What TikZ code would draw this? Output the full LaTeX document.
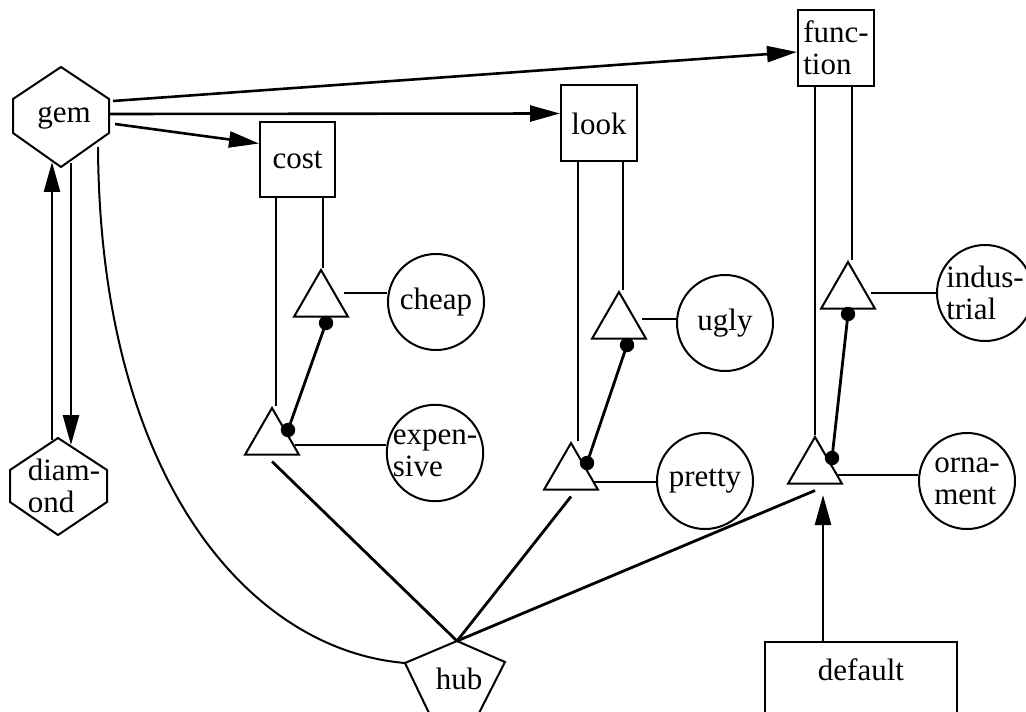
\documentclass[tikz,border=0pt]{standalone}
\usepackage{fontspec}
\setmainfont{Liberation Serif}
\usetikzlibrary{shapes.geometric,arrows.meta}

\begin{document}
\begin{tikzpicture}[x=0.5pt,y=-0.5pt,
  font=\fontsize{15.5}{16}\selectfont,
  box/.style={draw,line width=1pt,inner sep=0pt},
  tri/.style={draw,line width=1pt,regular polygon,regular polygon sides=3,minimum size=31pt,inner sep=0pt},
  val/.style={draw,line width=1pt,circle,minimum size=48pt,inner sep=0pt,align=left},
  thinline/.style={line width=1pt},
  heavy/.style={line width=1.4pt},
  arr/.style={line width=1.3pt,-{Triangle[length=15pt,width=8pt]}}]
\useasboundingbox (0,0) rectangle (1026,711);

% gem, diamond and hub
\draw[thinline] (61,67) -- (109,99) -- (109,133) -- (61,167) -- (13,133) -- (13,99) -- cycle;
\node (gem) at (64,118) {gem};
\draw[thinline] (58,438) -- (107,470) -- (107,502) -- (58,535) -- (10,502) -- (10,470) -- cycle;
\node[align=left] (diamond) at (64,486) {diam-\\ond};
\draw[thinline] (457,641) -- (505,662) -- (479,713) -- (429,713) -- (405,663) -- cycle;
\coordinate (hubtop) at (457,641);
\coordinate (hubleft) at (405,663);
\node (hub) at (459,679) {hub};

% boxes
\node[box,minimum size=37.5pt] (cost) at (297.5,159.5) {cost};
\node[box,minimum size=38pt] (look) at (599,123.5) {look};
\node[box,minimum size=38pt,align=left] (func) at (836,48) {func-\\tion};
\node[box,anchor=north,minimum width=96pt,text height=19pt,text depth=40pt] (default) at (861,641) {default};

% triangles
\node[tri] (cu) at (321,301) {};
\node[tri] (cl) at (272,439) {};
\node[tri] (lu) at (619,323) {};
\node[tri] (ll) at (571,474) {};
\node[tri] (fu) at (848,293) {};
\node[tri] (fl) at (815,468) {};

% values
\node[val] (cheap) at (436,302) {cheap};
\node[val] (expensive) at (435,453) {expen-\\sive};
\node[val] (ugly) at (725,323) {ugly};
\node[val] (pretty) at (705,481) {pretty};
\node[val] (industrial) at (985,293) {indus-\\trial};
\node[val] (ornament) at (967,481) {orna-\\ment};

\foreach \t/\b/\dx in {cu/cost/1,cl/cost/2,lu/look/2,ll/look/3.5,fu/func/2,fl/func/0} {
  \coordinate (\t-top) at ([xshift=\dx pt]\t.north);
  \draw[thinline] (\t-top) -- (\t-top |- \b.south);
}

\foreach \t/\c/\dy in {cu/cheap/4,cl/expensive/-3,lu/ugly/2,ll/pretty/-4,fu/industrial/0,fl/ornament/-3.5}
  \draw[heavy] ([xshift=2pt,yshift=\dy pt]\t.east) coordinate (\t-r) -- (\t-r -| \c.west);

\foreach \lo/\up/\ax/\ay/\bx/\by in {cl/cu/16/-9/5/22,ll/lu/16/-11/8/22,fl/fu/17/-10/0/21} {
  \coordinate (\lo-dot) at ([shift={(\ax,\ay)}]\lo.center);
  \coordinate (\up-dot) at ([shift={(\bx,\by)}]\up.center);
  \draw[heavy] (\lo-dot) -- (\up-dot);
  \fill (\lo-dot) circle (3.6pt) (\up-dot) circle (3.6pt);
}

\foreach \t in {cl,ll,fl}
  \draw[heavy] ([yshift=-3pt]\t.south) -- (hubtop);

% arrows
\draw[arr] ([shift={(51,6)}]gem.center) -- ([yshift=8pt]cost.west);
\draw[arr] ([shift={(46,-4)}]gem.center) -- ([yshift=5pt]look.west);
\draw[arr] ([shift={(49,-17)}]gem.center) -- ([yshift=-2pt]func.west);
\draw[arr] ([shift={(7,45)}]gem.center) -- ([shift={(7,-41)}]diamond.center);
\draw[arr] ([shift={(-12,-46)}]diamond.center) -- ([shift={(-12,44)}]gem.center);
\draw[arr] ([xshift=-19pt]default.north) -- ([shift={(8,27)}]fl.center);
\draw[thinline] ([shift={(34,29)}]gem.center) .. controls (100,480) and (250,650) .. (hubleft);

\end{tikzpicture}
\end{document}
